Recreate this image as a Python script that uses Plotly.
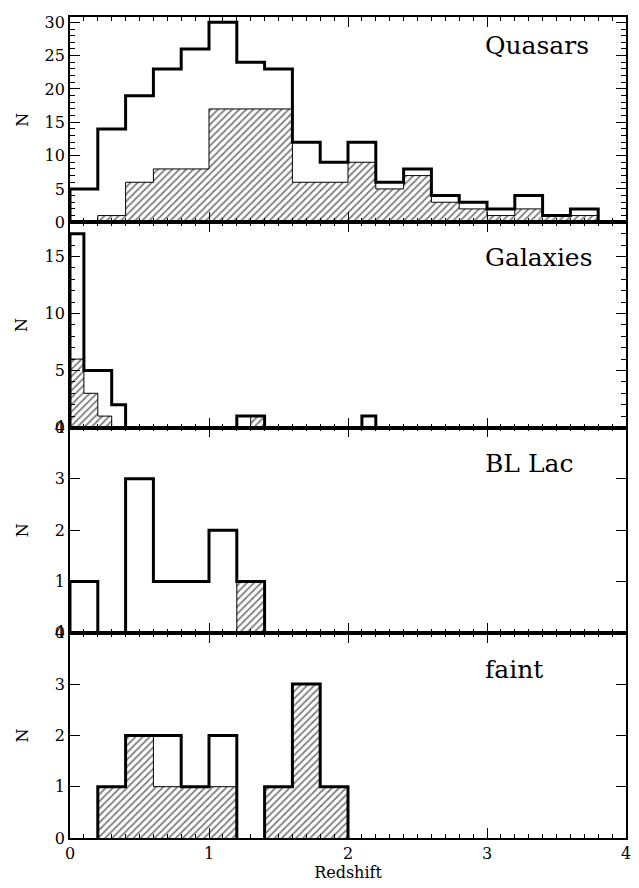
import numpy as np
import plotly.graph_objects as go
from plotly.subplots import make_subplots

# Redshift histograms: total sample (thick outline) and sub-sample (hatched)
qso_width = 0.2
qso_all = [5, 14, 19, 23, 26, 30, 24, 23, 12, 9, 12, 6, 8, 4, 3, 2, 4, 1, 2]
qso_sub = [0, 1, 6, 8, 8, 17, 17, 17, 6, 6, 9, 5, 7, 3, 2, 1, 2, 1, 1]

gal_width = 0.1
gal_all = [17, 5, 5, 2, 0, 0, 0, 0, 0, 0, 0, 0, 1, 1, 0, 0, 0, 0, 0, 0, 0, 1]
gal_sub = [6, 3, 1, 0, 0, 0, 0, 0, 0, 0, 0, 0, 0, 1, 0, 0, 0, 0, 0, 0, 0, 0]

bll_width = 0.2
bll_all = [1, 0, 3, 1, 1, 2, 1]
bll_sub = [0, 0, 0, 0, 0, 0, 1]

faint_width = 0.2
faint_all = [0, 1, 2, 2, 1, 2, 0, 1, 3, 1]
faint_sub = [0, 1, 2, 1, 1, 1, 0, 1, 3, 1]

panel_names = ["Quasars", "Galaxies", "BL Lac", "faint"]
y_ranges = [[0, 30.8], [0, 18], [0, 4], [0, 4]]
y_major = [5, 5, 1, 1]
y_minor = [1, 1, None, None]
label_y = [0.86, 0.83, 0.825, 0.82]

FONT = "DejaVu Serif"


def step_outline(edges, values):
    """Histogram outline, split into separate runs of non-empty bins."""
    xs, ys = [], []
    n = len(values)
    i = 0
    while i < n:
        if values[i] == 0:
            i += 1
            continue
        xs.append(edges[i]); ys.append(0)
        j = i
        while j < n and values[j] != 0:
            xs += [edges[j], edges[j + 1]]
            ys += [values[j], values[j]]
            j += 1
        xs.append(edges[j]); ys.append(0)
        xs.append(None); ys.append(None)
        i = j
    return xs, ys


panels = [
    (qso_width, qso_all, qso_sub),
    (gal_width, gal_all, gal_sub),
    (bll_width, bll_all, bll_sub),
    (faint_width, faint_all, faint_sub),
]

fig = make_subplots(rows=4, cols=1, shared_xaxes=True, vertical_spacing=0)

for r, (w, tot, sub) in enumerate(panels, start=1):
    edges = np.round(np.arange(len(tot) + 1) * w, 3).tolist()
    hx, hy = step_outline(edges, sub)
    fig.add_trace(go.Scatter(
        x=hx, y=hy, mode="lines", fill="toself",
        fillcolor="white",
        fillpattern=dict(shape="/", fgcolor="black", bgcolor="white",
                         size=5, solidity=0.35),
        line=dict(color="black", width=1),
        hoverinfo="skip", showlegend=False,
    ), row=r, col=1)
    tx, ty = step_outline(edges, tot)
    fig.add_trace(go.Scatter(
        x=tx, y=ty, mode="lines",
        line=dict(color="black", width=3),
        hoverinfo="skip", showlegend=False,
    ), row=r, col=1)

    yaxis = dict(
        range=y_ranges[r - 1], dtick=y_major[r - 1], tick0=0,
        ticks="inside", ticklen=10, tickwidth=1.3, tickcolor="black",
        showline=True, linecolor="black", linewidth=1.8, mirror="allticks",
        showgrid=False, zeroline=False,
        tickfont=dict(family=FONT, size=16, color="black"),
    )
    if y_minor[r - 1]:
        yaxis["minor"] = dict(dtick=y_minor[r - 1], ticks="inside", ticklen=5,
                              tickwidth=1.2, tickcolor="black")
    fig.update_yaxes(row=r, col=1, **yaxis)

    fig.update_xaxes(
        row=r, col=1,
        range=[0, 4], tick0=0, dtick=1,
        ticks="inside", ticklen=10, tickwidth=1.3, tickcolor="black",
        showline=True, linecolor="black", linewidth=1.8, mirror="allticks",
        showgrid=False, zeroline=False,
        minor=dict(dtick=0.1, ticks="inside", ticklen=4, tickwidth=1.2,
                   tickcolor="black"),
        tickfont=dict(family=FONT, size=16, color="black"),
    )

    yref = "y domain" if r == 1 else f"y{r} domain"
    xref = "x domain" if r == 1 else f"x{r} domain"
    fig.add_annotation(
        text=panel_names[r - 1], xref=xref, yref=yref,
        x=0.742, y=label_y[r - 1], xanchor="left", yanchor="middle",
        showarrow=False, font=dict(family=FONT, size=25, color="black"),
    )
    fig.add_annotation(
        text="N", xref="paper", yref=yref,
        x=-0.086, y=0.5, xanchor="center", yanchor="middle", textangle=-90,
        showarrow=False, font=dict(family=FONT, size=16, color="black"),
    )

fig.update_xaxes(row=4, col=1, title=dict(
    text="Redshift", font=dict(family=FONT, size=16, color="black"), standoff=4))

fig.update_layout(
    width=639, height=888,
    margin=dict(l=70, r=13, t=8, b=50),
    paper_bgcolor="white", plot_bgcolor="white",
    showlegend=False,
)

fig.write_html("out.html")
